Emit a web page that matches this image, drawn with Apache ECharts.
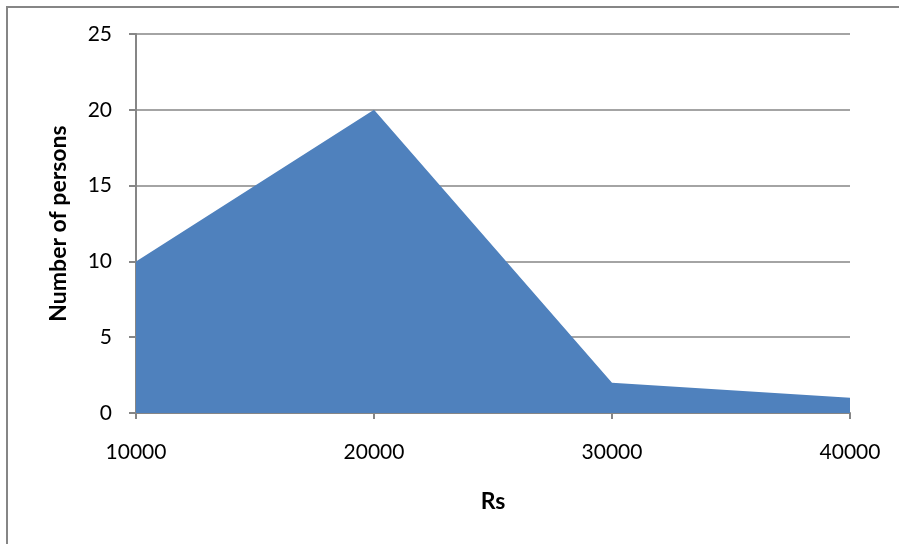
<!DOCTYPE html>
<html>
<head>
<meta charset="utf-8">
<script src="https://cdn.jsdelivr.net/npm/echarts@6/dist/echarts.min.js"></script>
<style>
  html, body { margin: 0; padding: 0; background: #fff; overflow: hidden; }
  #frame { position: absolute; left: 6px; top: 6px; width: 920px; height: 560px; border: 2px solid #868686; box-sizing: border-box; }
  #chart { position: absolute; left: 0; top: 0; width: 899px; height: 544px; }
</style>
</head>
<body>
<div id="frame"></div>
<div id="chart"></div>
<script>
// Income brackets (Rs) and how many persons fall in each
const categories = ['10000', '20000', '30000', '40000'];
const persons = [10, 20, 2, 1];
const yTicks = { min: 0, max: 25, interval: 5 };

const chart = echarts.init(document.getElementById('chart'), null, { renderer: 'canvas' });
const font = 'Lato, "Open Sans", sans-serif';
chart.setOption({
  animation: false,
  grid: { left: 136, right: 49, top: 34, bottom: 131, containLabel: false },
  xAxis: {
    type: 'category',
    data: categories,
    boundaryGap: false,
    name: 'Rs',
    nameLocation: 'middle',
    nameGap: 77,
    nameTextStyle: { fontFamily: font, fontWeight: 'bold', fontSize: 23, color: '#000' },
    axisLine: { lineStyle: { color: '#868686', width: 2 } },
    axisTick: { show: true, length: 6, alignWithLabel: true, lineStyle: { color: '#868686', width: 2 } },
    axisLabel: { fontFamily: font, fontSize: 21, color: '#000', margin: 29 },
    splitLine: { show: false }
  },
  yAxis: {
    type: 'value',
    min: yTicks.min,
    max: yTicks.max,
    interval: yTicks.interval,
    name: 'Number of persons',
    nameLocation: 'middle',
    nameGap: 66,
    nameRotate: 90,
    nameTextStyle: { fontFamily: font, fontWeight: 'bold', fontSize: 23, color: '#000' },
    axisLine: { show: true, lineStyle: { color: '#868686', width: 2 } },
    axisTick: { show: true, length: 7, lineStyle: { color: '#868686', width: 2 } },
    axisLabel: { fontFamily: font, fontSize: 21, color: '#000', margin: 24 },
    splitLine: { show: true, lineStyle: { color: '#868686', width: 1.5 } }
  },
  series: [{
    type: 'line',
    data: persons,
    symbol: 'none',
    lineStyle: { width: 0 },
    areaStyle: { color: '#4F81BD', opacity: 1 },
    z: 3
  }]
});
</script>
</body>
</html>
